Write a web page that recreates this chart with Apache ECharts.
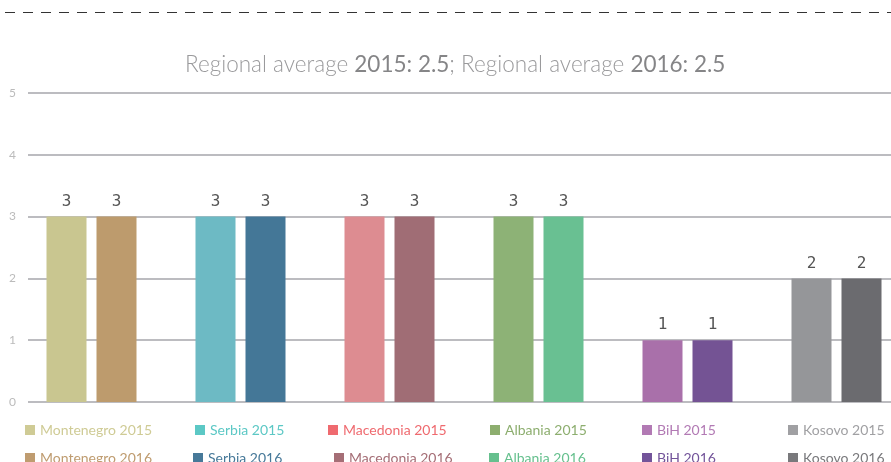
<!DOCTYPE html>
<html>
<head>
<meta charset="utf-8">
<script src="https://cdn.jsdelivr.net/npm/echarts@6/dist/echarts.min.js"></script>
<style>
  html, body { margin: 0; padding: 0; background: #fff; }
  #chart { width: 891px; height: 462px; }
</style>
</head>
<body>
<div id="chart"></div>
<script>
const countries = ['Montenegro', 'Serbia', 'Macedonia', 'Albania', 'BiH', 'Kosovo']
const years = ['2015', '2016']
const values2015 = [3, 3, 3, 3, 1, 2]
const values2016 = [3, 3, 3, 3, 1, 2]
const yTicks = [0, 1, 2, 3, 4, 5]

// bar colours and (slightly different) legend colours
const barColors2015 = ['#c9c690', '#6dbac4', '#dd8c91', '#8db276', '#a970aa', '#959699']
const barColors2016 = ['#bd9b6d', '#447797', '#a06d75', '#69c092', '#745394', '#6b6b6f']
const legendColors2015 = ['#cfcb95', '#5cc8c5', '#ef6a6f', '#8dae6f', '#b27ab4', '#a0a0a3']
const legendColors2016 = ['#bf9c70', '#477999', '#a56e76', '#66c08e', '#73549a', '#79797c']
const legendLeft2015 = [25, 195, 328, 490, 642, 788]
const legendLeft2016 = [25, 193, 334, 489, 642, 788]

const chart = echarts.init(document.getElementById('chart'))

const series = []
years.forEach((year, yi) => {
  const vals = yi === 0 ? values2015 : values2016
  const colors = yi === 0 ? barColors2015 : barColors2016
  countries.forEach((c, i) => {
    series.push({
      name: c + ' ' + year,
      type: 'bar',
      stack: 'y' + year,
      xAxisIndex: 0,
      yAxisIndex: 0,
      barWidth: 40,
      barGap: '25%',
      itemStyle: { color: colors[i] },
      label: {
        show: true,
        position: 'top',
        distance: 7,
        color: '#555',
        fontSize: 16,
        fontFamily: 'DejaVu Sans Mono'
      },
      data: countries.map((_, j) => (j === i ? vals[i] : '-'))
    })
  })
})

// one small legend per item so each sits under its own bar group
const legends = []
years.forEach((year, yi) => {
  const colors = yi === 0 ? legendColors2015 : legendColors2016
  const lefts = yi === 0 ? legendLeft2015 : legendLeft2016
  countries.forEach((c, i) => {
    legends.push({
      left: lefts[i],
      top: yi === 0 ? 423 : 451,
      padding: 0,
      itemWidth: 10,
      itemHeight: 10,
      icon: 'rect',
      selectedMode: false,
      textStyle: { fontSize: 14, fontFamily: 'Lato', color: colors[i] },
      data: [{ name: c + ' ' + year, itemStyle: { color: colors[i] } }]
    })
  })
})

const option = {
  animation: false,
  title: {
    text: '{a|Regional average }{b|2015: 2.5}{a|; Regional average }{b|2016: 2.5}',
    left: 180,
    top: 48,
    textStyle: {
      rich: {
        a: { fontSize: 22.5, color: '#9a9a9c', fontFamily: 'Lato', fontWeight: 300 },
        b: { fontSize: 22.5, color: '#858587', fontFamily: 'Lato', fontWeight: 400 }
      }
    }
  },
  graphic: [{
    type: 'line',
    shape: { x1: 5, y1: 12.5, x2: 891, y2: 12.5 },
    style: { stroke: '#333', lineWidth: 1, lineDash: [10, 8] },
    silent: true
  }],
  legend: legends,
  grid: [
    { left: 17, top: 93, width: 894, height: 309, outerBoundsMode: 'none', containLabel: false },
    { left: 28, top: 93, right: 0, height: 309, outerBoundsMode: 'none', containLabel: false }
  ],
  xAxis: [
    {
      type: 'category',
      gridIndex: 0,
      data: countries,
      axisLine: { show: false },
      axisTick: { show: false },
      axisLabel: { show: false }
    },
    { type: 'value', gridIndex: 1, show: false }
  ],
  yAxis: [
    { type: 'value', gridIndex: 0, min: 0, max: 5, show: false },
    {
      type: 'value',
      gridIndex: 1,
      min: yTicks[0],
      max: yTicks[yTicks.length - 1],
      interval: 1,
      axisLine: { show: false },
      axisTick: { show: false },
      axisLabel: { color: '#bbbbbb', fontSize: 12, margin: 12, fontFamily: 'Lato' },
      splitLine: { lineStyle: { color: '#bcbcc0', width: 2 } }
    }
  ],
  series: series
}

chart.setOption(option)
</script>
</body>
</html>
